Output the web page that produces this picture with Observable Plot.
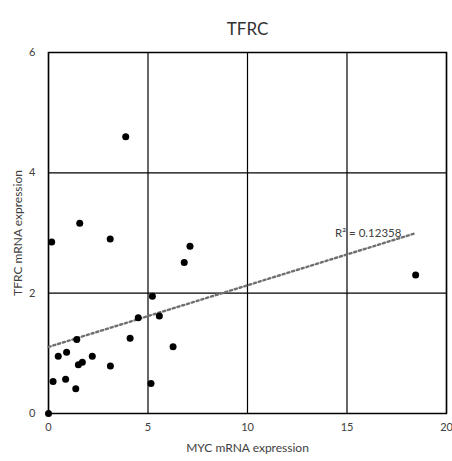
<!DOCTYPE html>
<html>
<head>
<meta charset="utf-8">
<script src="https://cdn.jsdelivr.net/npm/d3@7"></script>
<script src="https://cdn.jsdelivr.net/npm/@observablehq/plot@0.6"></script>
<style>
  html, body { margin: 0; padding: 0; background: #fff; }
  #chart svg { display: block; }
</style>
</head>
<body>
<div id="chart"></div>
<script>
// Data
const chartTitle = "TFRC";
const xTitle = "MYC mRNA expression";
const yTitle = "TFRC mRNA expression";
const mycValues = [0.16, 3.10, 7.11, 6.82, 5.22, 5.57, 4.51, 4.10, 1.42, 6.26, 0.91, 0.49, 2.20, 1.70, 1.50, 3.11, 0.23, 0.86, 5.15, 1.37, 0.00, 3.88, 1.57, 18.45];
const tfrcValues = [2.85, 2.90, 2.78, 2.51, 1.95, 1.62, 1.59, 1.25, 1.23, 1.11, 1.02, 0.95, 0.95, 0.85, 0.81, 0.79, 0.53, 0.57, 0.50, 0.41, 0.00, 4.60, 3.16, 2.30];
const xTicks = [0, 5, 10, 15, 20];
const yTicks = [0, 2, 4, 6];
const trendIntercept = 1.106;
const trendSlope = 0.1025;
const r2Label = "R\u00B2 = 0.12358";
const r2LabelPos = [14.4, 3.0];

const points = mycValues.map((x, i) => ({x, y: tfrcValues[i]}));
const xMax = d3.max(mycValues);
const trend = [0, xMax].map(x => ({x, y: trendIntercept + trendSlope * x}));

const font = "Lato, 'Open Sans', sans-serif";
const textColor = "#404040";
const fmt = d3.format("d");

const chart = Plot.plot({
  width: 452,
  height: 461,
  marginTop: 52,
  marginLeft: 48,
  marginRight: 6,
  marginBottom: 48,
  style: {fontFamily: font, fontSize: "11px", color: textColor, background: "#fff"},
  x: {domain: [0, 20], ticks: xTicks},
  y: {domain: [0, 6], ticks: yTicks},
  marks: [
    Plot.gridX(xTicks, {stroke: "#000", strokeOpacity: 1, strokeWidth: 1.2}),
    Plot.gridY(yTicks, {stroke: "#000", strokeOpacity: 1, strokeWidth: 1.2}),
    Plot.frame({stroke: "#000", strokeWidth: 1.5}),
    Plot.axisX(xTicks, {tickSize: 0, tickPadding: 10, label: null, tickFormat: fmt, fill: textColor, fontSize: 11}),
    Plot.axisY(yTicks, {tickSize: 0, tickPadding: 13, label: null, tickFormat: fmt, fill: textColor, fontSize: 11}),
    Plot.line(trend, {x: "x", y: "y", stroke: "#707070", strokeWidth: 2.4, strokeDasharray: "2.2,2.8"}),
    Plot.dot(points, {x: "x", y: "y", r: 3.5, fill: "#000"}),
    Plot.text([r2Label], {x: () => r2LabelPos[0], y: () => r2LabelPos[1], textAnchor: "start", fill: textColor, fontSize: 11.5}),
    Plot.text([chartTitle], {frameAnchor: "top", dy: -30, fontSize: 17, fill: "#333"}),
    Plot.text([xTitle], {frameAnchor: "bottom", dy: 38, fontSize: 12, fill: textColor}),
    Plot.text([yTitle], {frameAnchor: "left", textAnchor: "middle", rotate: -90, dx: -30, fontSize: 12, fill: textColor})
  ]
});
document.getElementById("chart").appendChild(chart);
</script>
</body>
</html>
